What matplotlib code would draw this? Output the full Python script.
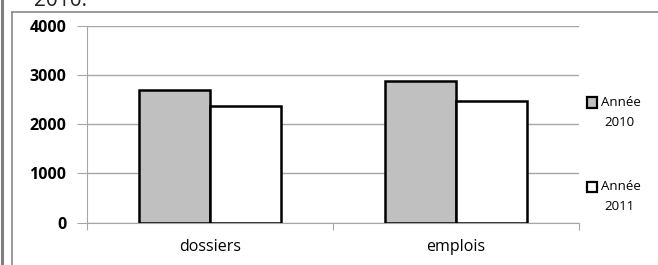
import matplotlib.pyplot as plt
import numpy as np
from matplotlib.lines import Line2D
from matplotlib.patches import Rectangle

categories = ['dossiers', 'emplois']
annee_2010 = [2700, 2870]
annee_2011 = [2360, 2480]
series_labels = [('Année', '2010'), ('Année', '2011')]
series_colors = ['#c0c0c0', 'white']
yticks = [0, 1000, 2000, 3000, 4000]

plt.rcParams['font.family'] = ['Open Sans', 'DejaVu Sans']

fig = plt.figure(figsize=(6.58, 2.65), dpi=100)
W, H = 658, 265

def fx(px):
    return px / W

def fy(py):
    return 1 - py / H

# page border and chart frame
fig.add_artist(Line2D([fx(1.5), fx(1.5)], [0, 1], color='#7f7f7f', lw=2.2))
fig.add_artist(Line2D([fx(12), fx(12)], [0, fy(12)], color='#8a8a8a', lw=1.2))
fig.add_artist(Line2D([fx(12), 1], [fy(12), fy(12)], color='#8a8a8a', lw=1.2))
fig.text(fx(34), fy(6), '2010.', fontsize=15, color='#222222', va='baseline')

ax = fig.add_axes([fx(87), fy(222.7), fx(579 - 87), (222.7 - 25.7) / H])

x = np.arange(len(categories))
w = 0.29
ax.bar(x - w / 2, annee_2010, w, color=series_colors[0], edgecolor='black', lw=1.8, zorder=3)
ax.bar(x + w / 2, annee_2011, w, color=series_colors[1], edgecolor='black', lw=1.8, zorder=3)

ax.set_xlim(-0.5, 1.5)
ax.set_ylim(0, 4000)
ax.set_yticks(yticks)
ax.set_yticklabels([str(v) for v in yticks], fontweight='bold', fontsize=11.5)
ax.yaxis.grid(True, color='#a6a6a6', lw=1)
ax.set_axisbelow(True)

ax.set_xticks([-0.5, 0.5, 1.5])
ax.set_xticklabels([])
ax.set_xticks(x, minor=True)
ax.set_xticklabels(categories, minor=True, fontsize=11.5)
ax.tick_params(axis='x', which='minor', length=0, pad=12)
ax.tick_params(axis='x', which='major', length=5, color='#a6a6a6', direction='out')
ax.tick_params(axis='y', length=7, color='#a6a6a6', pad=8)

for s in ['top', 'right']:
    ax.spines[s].set_visible(False)
ax.spines['left'].set_color('#a6a6a6')
ax.spines['bottom'].set_color('#a6a6a6')

# legend: square next to first line, year centred below
for i, ((l1, l2), c) in enumerate(zip(series_labels, series_colors)):
    top = 97 + 84.5 * i
    fig.add_artist(Rectangle((fx(586.5), fy(top + 10.5)), fx(10.5), 10.5 / H,
                             facecolor=c, edgecolor='black', lw=1.6))
    fig.text(fx(601), fy(top + 5.5), l1, fontsize=9.5, va='center', ha='left')
    fig.text(fx(619), fy(top + 25.5), l2, fontsize=9.5, va='center', ha='center')

fig.savefig('out.png', dpi=100)
